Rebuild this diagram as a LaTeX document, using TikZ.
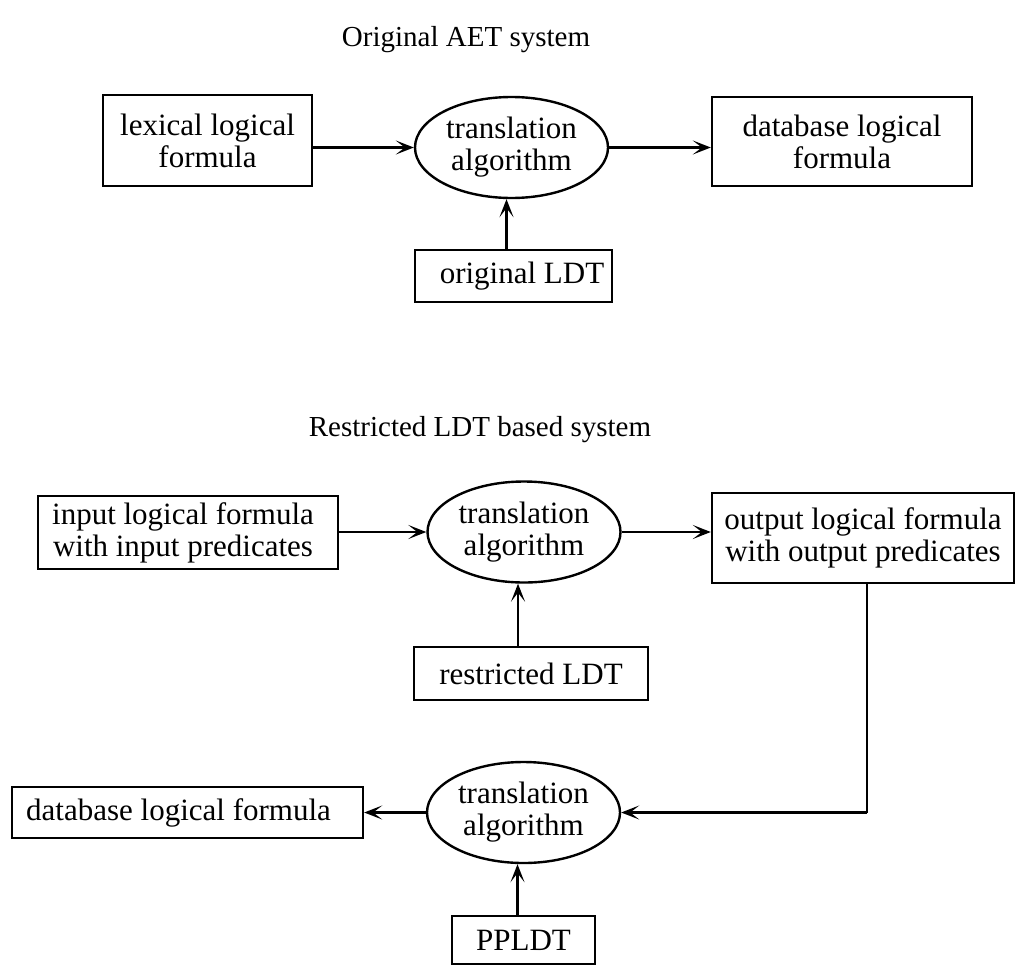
\documentclass[tikz,border=0pt]{standalone}
\usepackage{fontspec}
\setmainfont{Liberation Serif}
\usetikzlibrary{shapes.geometric,arrows.meta}
\begin{document}
\begin{tikzpicture}[x=1pt,y=-1pt,
  font=\fontsize{31}{32}\selectfont,
  every node/.style={inner sep=0pt,align=center},
  box/.style={draw,line width=2.4pt},
  oval/.style={draw,ellipse,line width=2.4pt,minimum width=193pt,minimum height=101pt},
  heading/.style={font=\fontsize{29}{32}\selectfont},
  arr/.style={line width=2.2pt,-{Stealth[length=18pt,width=14pt,inset=9pt]}}]
\useasboundingbox (0,0) rectangle (1016,966);

% Original AET system
\node[heading] (t1) at (466,40) {Original AET system};
\node[box,minimum width=209pt,minimum height=91pt] (lex) at (207.5,140.5) {lexical logical\\formula};
\node[oval] (e1) at (511.5,147.5) {translation\\algorithm};
\node[box,minimum width=260pt,minimum height=89pt] (db1) at (842,141.5) {database logical\\formula};
\node[box,minimum width=197pt,minimum height=52pt] (ldt) at (513.5,276) {\hspace*{17pt}original LDT};

\draw[arr] (lex.east |- e1.west) -- (e1.west);
\draw[arr] (e1.east) -- (e1.east -| db1.west);
\draw[arr] ([xshift=-5pt]e1.south |- ldt.north) -- ([xshift=-5pt]e1.south);

% Restricted LDT based system
\node[heading] (t2) at (480,430) {Restricted LDT based system};
\node[box,minimum width=300pt,minimum height=73pt] (inp) at (188,532.5)
  {input logical formula\hspace*{10pt}\\with input predicates\hspace*{10pt}};
\node[oval] (e2) at (524,532) {translation\\algorithm};
\node[box,minimum width=302pt,minimum height=90pt] (out) at (863,538) {output logical formula\\with output predicates};
\node[box,minimum width=234pt,minimum height=53pt] (rldt) at (531,673.5) {restricted LDT};

\draw[arr] (inp.east |- e2.west) -- (e2.west);
\draw[arr] (e2.east) -- (e2.east -| out.west);
\draw[arr] ([xshift=-6pt]e2.south |- rldt.north) -- ([xshift=-6pt]e2.south);

\node[box,minimum width=351pt,minimum height=51pt] (db2) at (187.5,812.5) {database logical formula\hspace*{18pt}};
\node[oval] (e3) at (523.5,812.5) {translation\\algorithm};
\node[box,minimum width=143pt,minimum height=48pt] (pp) at (523.5,940) {PPLDT};
\coordinate (bend) at (867,812.5);

\draw[line width=2.2pt] (bend |- out.south) -- (bend);
\draw[arr] (bend) -- (e3.east);
\draw[arr] (e3.west) -- (e3.west -| db2.east);
\draw[arr] ([xshift=-6pt]e3.south |- pp.north) -- ([xshift=-6pt]e3.south);
\end{tikzpicture}
\end{document}
